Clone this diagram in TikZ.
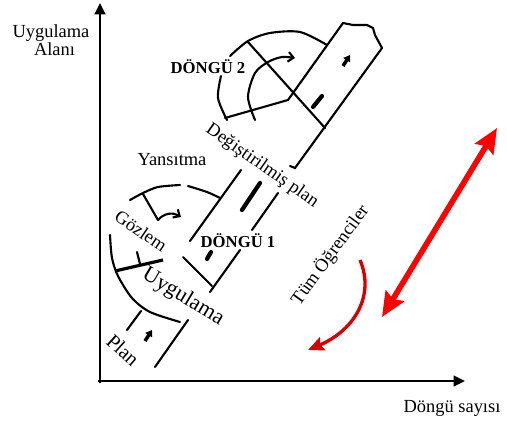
\documentclass[tikz,border=0pt]{standalone}
\usepackage{fontspec}
\setmainfont{Liberation Serif}
\usetikzlibrary{arrows.meta}
\definecolor{brightred}{RGB}{255,0,0}
\definecolor{darkred}{RGB}{210,0,0}
\tikzset{
  ln/.style={line width=1.2pt, line cap=round},
  thk/.style={line width=2.4pt, line cap=round},
  axis/.style={line width=1.5pt, -{Triangle[length=6.5pt,width=6pt]}},
  barb/.style={ln, -{Straight Barb[length=3pt,width=5.5pt]}},
  smallup/.style={line width=2pt, -{Triangle[length=3.5pt,width=4.5pt]}},
  lbl/.style={inner sep=0pt, font=\fontsize{10.5}{11}\selectfont},
  bld/.style={inner sep=0pt, font=\fontsize{9.5}{11}\selectfont\bfseries},
  bigl/.style={inner sep=0pt, font=\fontsize{12.5}{14}\selectfont},
}
\begin{document}
\begin{tikzpicture}[x=0.02cm,y=-0.02cm]
\useasboundingbox (0,0) rectangle (507,423);
% axes
\coordinate (ybot) at (100,383);
\coordinate (ytip) at (100,3);
\coordinate (xleft) at (98,381);
\coordinate (xtip) at (465,381);
\draw[axis] (ybot) -- (ytip);
\draw[axis] (xleft) -- (xtip);
\node[lbl, align=center, font=\fontsize{10.5}{10.5}\selectfont] (ylab) at (51,40) {Uygulama\\\hspace*{4pt}Alanı};
\node[lbl] (xlab) at (452,408) {Döngü sayısı};

% ---------- cycle 1 ----------
% upper arc
\draw[ln] plot[smooth] coordinates {(130,200) (143,193) (158,187) (180,185)};
\draw[ln] plot[smooth] coordinates {(188,186) (207,192) (220,198)};
% Gozlem spoke and arrow
\draw[ln] (143,194) -- (158,220);
\draw[barb] (158,220) .. controls (164,213) and (173,212) .. (181,217);
% lower arc
\draw[ln] plot[smooth] coordinates {(110,235) (112,258) (118,276) (132,298) (150,312) (180,322)};
% thick spoke with tick
\draw[line width=1.8pt] (115,271) -- (163,260);
\draw[ln] (137,252) -- (140,264);
% plan strip
\draw[ln] (127,330) -- (141,311);
\draw[ln] (155,367) -- (188,320);
\draw[smallup] (145,341) -- (152,330);
% middle strip
\draw[ln] (190,241) -- (241,170);
\draw[ln] (183,257) -- (212,286);
\draw[ln] (210,292) -- (240,250);
\draw[ln] (252,230) -- (278,193);
\draw[thk] (242,210) -- (260,183);
\draw[thk] (207,259) -- (211,252);

% ---------- cycle 2 ----------
\draw[ln] plot[smooth] coordinates {(227,120) (218,98) (221,76)};
\draw[ln] plot[smooth] coordinates {(230,56) (248,41) (270,33) (300,32) (327,45)};
\draw[ln] (225,118) -- (288,100);
\draw[ln] (248,42) -- (325,128);
\draw[ln] (343,23) -- (288,100);
\draw[ln] (343,23) -- (353,25) -- (367,25) -- (373,28) -- (375,35) -- (382,48);
\draw[ln] (382,48) -- (295,168) -- (290,166);
\draw[barb] plot[smooth] coordinates {(255,120) (248,97) (255,73) (268,62) (282,57) (295,58)};
\draw[thk] (313,107) -- (322,96);
\draw[smallup] (343,66) -- (350,55);

% ---------- labels ----------
\node[lbl] (yans) at (172,160) {Yansıtma};
\node[bld] (d2) at (208,67) {DÖNGÜ 2};
\node[bld] (d1) at (238,241) {DÖNGÜ 1};
\node[lbl, rotate=-35] (dp) at (262,166) {Değiştirilmiş plan};
\node[lbl, rotate=54] (tum) at (330,255) {Tüm Öğrenciler};
\node[lbl, rotate=-34] (goz) at (141,231) {Gözlem};
\node[bigl, rotate=-31] (uyg) at (183,297) {Uygulama};
\node[lbl, font=\fontsize{11.5}{12}\selectfont, rotate=-42] (plan) at (123,350) {Plan};

% ---------- red arrows ----------
\coordinate (rt) at (497,128);
\coordinate (rb) at (382,317);
\draw[brightred, line width=3.2pt, {Stealth[length=14pt,width=12pt,inset=2pt]}-{Stealth[length=14pt,width=12pt,inset=2pt]}] (rb) -- (rt);
\coordinate (cs) at (360,260);
\coordinate (ce) at (308,350);
\draw[darkred, line width=1.9pt, -{Stealth[length=9pt,width=8pt,inset=1.5pt]}] (cs) .. controls (375,295) and (355,330) .. (ce);
\end{tikzpicture}
\end{document}
